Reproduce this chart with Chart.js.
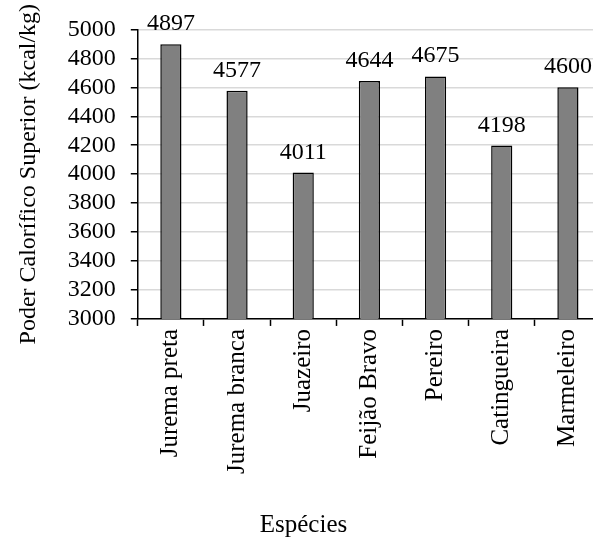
<!DOCTYPE html>
<html>
<head>
<meta charset="utf-8">
<script src="https://cdn.jsdelivr.net/npm/chart.js@4/dist/chart.umd.min.js"></script>
<style>
  html, body { margin: 0; padding: 0; background: #fff; overflow: hidden; width: 593px; height: 540px; }
  #wrap { width: 593px; height: 540px; overflow: hidden; position: relative; }
  #grafico { position: absolute; left: 0; top: 0; }
</style>
</head>
<body>
<div id="wrap"><canvas id="grafico" width="630" height="540"></canvas></div>
<script>
// Espécies e poder calorífico superior (kcal/kg)
const especies = ["Jurema preta", "Jurema branca", "Juazeiro", "Feijão Bravo", "Pereiro", "Catingueira", "Marmeleiro"];
const pcs = [4897, 4577, 4011, 4644, 4675, 4198, 4600];
const yMin = 3000;
const yMax = 5000;
const yPasso = 200;

const fonte = "'Liberation Serif', 'Times New Roman', serif";

// escreve o valor acima de cada barra
const rotulosBarras = {
  id: "rotulosBarras",
  afterDatasetsDraw(chart) {
    const ctx = chart.ctx;
    const meta = chart.getDatasetMeta(0);
    ctx.save();
    ctx.font = "24px " + fonte;
    ctx.fillStyle = "#000";
    ctx.textAlign = "center";
    ctx.textBaseline = "alphabetic";
    meta.data.forEach((barra, i) => {
      ctx.fillText(String(pcs[i]), barra.x, barra.y - 14);
    });
    ctx.restore();
  }
};

new Chart(document.getElementById("grafico"), {
  type: "bar",
  data: {
    labels: especies,
    datasets: [{
      data: pcs,
      backgroundColor: "#808080",
      borderColor: "#000",
      borderWidth: 1.5,
      borderSkipped: "bottom",
      categoryPercentage: 1,
      barPercentage: 0.32
    }]
  },
  options: {
    responsive: false,
    animation: false,
    layout: { padding: { left: 6, right: 29, top: 14, bottom: 0 } },
    plugins: {
      legend: { display: false },
      tooltip: { enabled: false },
      title: {
        display: true,
        position: "bottom",
        text: "Espécies",
        color: "#000",
        font: { family: fonte, size: 25, weight: "normal" },
        padding: { top: 33, bottom: 0 }
      }
    },
    scales: {
      x: {
        offset: true,
        grid: {
          offset: true,
          drawOnChartArea: false,
          drawTicks: true,
          tickLength: 7,
          tickColor: "#000",
          tickWidth: 1.5
        },
        border: { color: "#000", width: 1.5 },
        ticks: {
          color: "#000",
          font: { family: fonte, size: 25 },
          minRotation: 90,
          maxRotation: 90,
          autoSkip: false,
          padding: 3
        }
      },
      y: {
        min: yMin,
        max: yMax,
        grid: {
          color: "#d9d9d9",
          lineWidth: 1.5,
          tickLength: 7,
          tickColor: "#000",
          tickWidth: 1.5
        },
        border: { color: "#000", width: 1.5 },
        ticks: {
          stepSize: yPasso,
          autoSkip: false,
          color: "#000",
          font: { family: fonte, size: 24 },
          padding: 15,
          callback: v => String(v)
        },
        title: {
          display: true,
          text: "Poder Calorífico Superior (kcal/kg)",
          color: "#000",
          font: { family: fonte, size: 24 },
          padding: { top: 8, bottom: 10 }
        }
      }
    }
  },
  plugins: [rotulosBarras]
});
</script>
</body>
</html>
